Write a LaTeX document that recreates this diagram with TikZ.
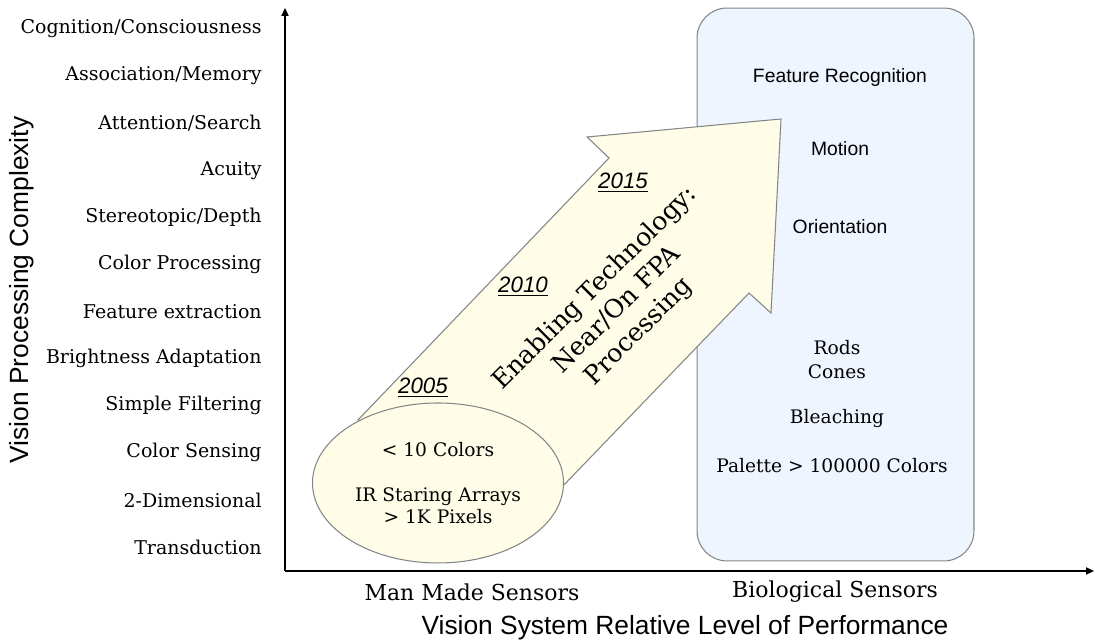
\documentclass[tikz,border=0pt]{standalone}
\usepackage{fontspec}
\setmainfont{DejaVu Serif}
\setsansfont{Liberation Sans}
\usetikzlibrary{arrows.meta,shapes.geometric}
\definecolor{outlinegray}{HTML}{858585}
\definecolor{techyellow}{HTML}{FFFDE8}
\definecolor{bioblue}{HTML}{EEF5FF}

\begin{document}
\begin{tikzpicture}[x=0.02cm, y=0.02cm,
  font=\fontsize{10.6}{12.5}\selectfont,
  axis/.style={-{Triangle[length=4.5pt, width=4pt]}, line width=1pt},
  level/.style={anchor=east, inner sep=0pt, font=\fontsize{10.8}{13}\selectfont},
  sensor/.style={font=\fontsize{12.5}{15}\selectfont},
  axtitle/.style={font=\sffamily\fontsize{15}{18}\selectfont},
  year/.style={font=\sffamily\itshape\fontsize{12.7}{15}\selectfont},
  boxtext/.style={font=\sffamily\fontsize{11}{13}\selectfont},
  outline/.style={draw=outlinegray, line width=0.6pt}
]
\useasboundingbox (0,0) rectangle (1095,644);

\coordinate (o) at (285,73);
\coordinate (ytop) at (285,636);
\coordinate (xend) at (1094,73);
\draw[axis] (o) -- (ytop);
\draw[axis] (o) -- (xend);

\foreach \lvl [count=\i from 0] in {Cognition/Consciousness, Association/Memory,
    Attention/Search, Acuity, Stereotopic/Depth, Color Processing,
    Feature extraction, Brightness Adaptation, Simple Filtering,
    Color Sensing, 2-Dimensional, Transduction}
  \node[level] (lvl\i) at (262,615-47.1*\i) {\lvl};

\node[axtitle, rotate=90] (ytitle) at (22,354) {Vision Processing Complexity};
\node[axtitle] (xtitle) at (685,16) {Vision System Relative Level of Performance};
\node[sensor] (mancat) at (472,52) {Man Made Sensors};
\node[sensor] (biocat) at (835,52) {Biological Sensors};

% biological sensors panel
\node[outline, fill=bioblue, rounded corners=0.6cm, inner sep=0pt,
  minimum width=5.54cm, minimum height=11.06cm] (bio) at (835.5,359.5) {};

% enabling technology arrow, its tail runs under the ellipse
\draw[outline, fill=techyellow] (358,224) -- (609,486) -- (587,507) -- (781,525)
  -- (771,331) -- (749,351) -- (561,156) -- cycle;

\node[outline, fill=techyellow, ellipse, align=center,
  minimum width=4.92cm, minimum height=3.2cm] (mms) at (438,161)
  {\raisebox{-3pt}{< 10 Colors}\\[16pt]IR Staring Arrays\\> 1K Pixels};

\node[rotate=45, align=center, font=\fontsize{14.4}{17.6}\selectfont] (tech)
  at (617,334) {Enabling Technology:\\Near/On FPA\\Processing};

\node[year] (y2005) at (423,256) {\underline{2005}};
\node[year] (y2010) at (523,357) {\underline{2010}};
\node[year] (y2015) at (623,461) {\underline{2015}};

\node[boxtext] (feat) at (840,566) {Feature Recognition};
\node[boxtext] (motion) at (840,495) {Motion};
\node[boxtext] (orient) at (840,417) {Orientation};
\node[align=center, font=\fontsize{10.6}{13.6}\selectfont] (rods) at (837,284) {Rods\\Cones};
\node (bleach) at (837,225) {Bleaching};
\node (palette) at (832,178) {Palette > 100000 Colors};
\end{tikzpicture}
\end{document}
